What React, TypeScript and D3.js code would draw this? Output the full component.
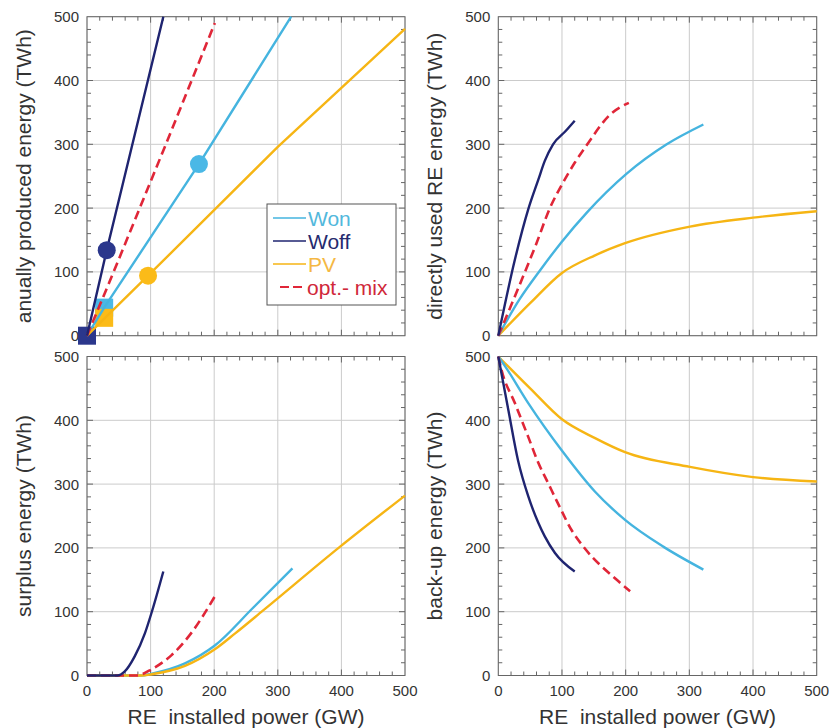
import React from 'react';
import * as d3 from 'd3';

type P = [number, number];

// ---------- data ----------
const xTicks = [0, 100, 200, 300, 400, 500];
const yTicks = [0, 100, 200, 300, 400, 500];

// annually produced energy
const producedWon: P[] = [[0, 0], [27, 44], [176, 269], [321, 500]];
const producedWoff: P[] = [[0, 0], [31, 134], [120, 500]];
const producedPV: P[] = [[0, 0], [96, 94], [300, 296], [500, 481]];
const producedMix: P[] = [[0, 0], [39, 93], [124, 300], [201, 490]];
const circlesProduced: { key: string; p: P }[] = [
  { key: 'woff', p: [31, 134] },
  { key: 'won', p: [176, 269] },
  { key: 'pv', p: [96, 94] },
];
const squaresProduced: { key: string; p: P }[] = [
  { key: 'won', p: [27, 44] },
  { key: 'pv', p: [27, 28] },
  { key: 'woff', p: [0, 0] },
];

// directly used RE energy
const directWoff: P[] = [[0, 0], [26, 119], [47, 198], [63, 245], [73, 274], [86, 300], [105, 320], [120, 337]];
const directMix: P[] = [[0, 0], [39, 93], [60, 145], [81, 200], [100, 237], [120, 271], [139, 299], [175, 346], [205, 365]];
const directWon: P[] = [[0, 0], [34, 58], [66, 103], [99.5, 147], [139, 193], [201.6, 254], [264.5, 300], [322, 331]];
const directPV: P[] = [[0, 0], [50, 51], [99.5, 98], [152, 126], [199, 145], [301, 171], [400, 185], [500, 195]];

// surplus energy
const surplusWoff: P[] = [[0, 0], [48, 0], [59, 6], [75, 30], [91, 66], [102, 100], [120, 163]];
const surplusMix: P[] = [[0, 0], [78, 0], [102, 10], [133, 32], [165, 68], [201, 124]];
const surplusWon: P[] = [[0, 0], [85, 0], [102, 3], [154, 19], [201, 47], [260, 105], [323, 168]];
const surplusPV: P[] = [[0, 0], [85, 0], [102, 2], [154, 15], [201, 41], [233, 66], [277, 102], [398, 202], [500, 282]];

// back-up energy
const backWoff: P[] = [[0, 500], [16, 415], [31, 337], [47, 281], [63, 239], [73, 218], [89, 192], [120, 163]];
const backMix: P[] = [[0, 500], [5, 479], [26, 427], [47, 374], [63, 333], [78.5, 301], [96, 265], [115, 228], [136, 199], [186, 150], [207, 132]];
const backWon: P[] = [[0, 500], [10.5, 485], [47, 427], [99.5, 353], [152, 288], [199, 244], [259, 202], [322, 166]];
const backPV: P[] = [[0, 500], [50, 450], [99.5, 402], [152, 372], [199, 350], [301, 327], [400, 311], [500, 304]];

const legendLabels = ['Won', 'Woff', 'PV', 'opt.- mix'];
const legendKeys = ['won', 'woff', 'pv', 'mix'];

// ---------- style ----------
const LINE: Record<string, string> = { won: '#45b4df', woff: '#1f2470', pv: '#f6b514', mix: '#e02638' };
const MARK: Record<string, string> = { won: '#4ab8e6', woff: '#2b378c', pv: '#fbbb18' };
const TEXT: Record<string, string> = { won: '#52b8dc', woff: '#252a6e', pv: '#f5b843', mix: '#d0283a' };
const FONT = '"Liberation Sans", Arial, Helvetica, sans-serif';

type Box = { l: number; r: number; t: number; b: number };
type Series = { key: string; data: P[] };

function Panel({ box, yLabel, series, showX, curve, children }: {
  box: Box; yLabel: string; series: Series[]; showX: boolean; curve: any;
  children?: (xs: any, ys: any) => React.ReactNode; }) {
  const xs = d3.scaleLinear().domain([0, 500]).range([box.l, box.r]);
  const ys = d3.scaleLinear().domain([0, 500]).range([box.b, box.t]);
  const line = d3.line<P>().x(d => xs(d[0])).y(d => ys(d[1])).curve(curve);
  const minor = d3.range(20, 500, 20).filter(v => v % 100 !== 0);
  const major = [100, 200, 300, 400];
  const cy = (box.t + box.b) / 2;
  const before = children ? children(xs, ys) : null;
  return (
    <g>
      {xTicks.map(v => (
        <line key={'gx' + v} x1={xs(v)} x2={xs(v)} y1={box.t} y2={box.b} stroke="#cbcbcb" strokeWidth={1} />
      ))}
      {yTicks.map(v => (
        <line key={'gy' + v} y1={ys(v)} y2={ys(v)} x1={box.l} x2={box.r} stroke="#cbcbcb" strokeWidth={1} />
      ))}
      {minor.map(v => (
        <g key={'m' + v} stroke="#666" strokeWidth={1}>
          <line x1={xs(v)} x2={xs(v)} y1={box.b} y2={box.b - 4} />
          <line x1={xs(v)} x2={xs(v)} y1={box.t} y2={box.t + 4} />
          <line y1={ys(v)} y2={ys(v)} x1={box.l} x2={box.l + 4} />
          <line y1={ys(v)} y2={ys(v)} x1={box.r} x2={box.r - 4} />
        </g>
      ))}
      {major.map(v => (
        <g key={'M' + v} stroke="#666" strokeWidth={1}>
          <line x1={xs(v)} x2={xs(v)} y1={box.b} y2={box.b - 6} />
          <line x1={xs(v)} x2={xs(v)} y1={box.t} y2={box.t + 6} />
          <line y1={ys(v)} y2={ys(v)} x1={box.l} x2={box.l + 6} />
          <line y1={ys(v)} y2={ys(v)} x1={box.r} x2={box.r - 6} />
        </g>
      ))}
      <rect x={box.l} y={box.t} width={box.r - box.l} height={box.b - box.t} fill="none" stroke="#666" strokeWidth={1} />
      {yTicks.map(v => (
        <text key={'ty' + v} x={box.l - 8} y={ys(v)} dy="0.36em" textAnchor="end" fontSize={15} fill="#333" fontFamily={FONT}>{v}</text>
      ))}
      {showX && xTicks.map(v => (
        <text key={'tx' + v} x={xs(v)} y={box.b + 20} textAnchor="middle" fontSize={15} fill="#333" fontFamily={FONT}>{v}</text>
      ))}
      {showX && (
        <text x={(box.l + box.r) / 2} y={box.b + 48} textAnchor="middle" fontSize={21} fill="#333" fontFamily={FONT} style={{ whiteSpace: 'pre' }}>{'RE  installed power (GW)'}</text>
      )}
      <text transform={`translate(${box.l - 56},${cy}) rotate(-90)`} textAnchor="middle" fontSize={21} fill="#333" fontFamily={FONT}>{yLabel}</text>
      {before}
      {series.map(s => (
        <path key={s.key} d={line(s.data) || ''} fill="none" stroke={LINE[s.key]} strokeLinejoin="round"
          strokeWidth={s.key === 'mix' ? 2.6 : 2.4} strokeDasharray={s.key === 'mix' ? '9,5' : undefined} />
      ))}
    </g>
  );
}

export default function App() {
  const TL: Box = { l: 87, r: 405, t: 16.7, b: 335.7 };
  const TR: Box = { l: 498.3, r: 816.7, t: 16.7, b: 335.7 };
  const BL: Box = { l: 87, r: 405, t: 356.5, b: 675.5 };
  const BR: Box = { l: 498.3, r: 816.7, t: 356.5, b: 675.5 };
  const lx = 267, ly = 204;
  return (
    <svg width={829} height={728} style={{ position: 'absolute', left: 0, top: 0, background: '#fff' }}>
      <rect width={829} height={728} fill="#fff" />
      <Panel box={TL} yLabel="anually produced energy (TWh)" showX={false} curve={d3.curveLinear}
        series={[{ key: 'won', data: producedWon }, { key: 'pv', data: producedPV }, { key: 'mix', data: producedMix }, { key: 'woff', data: producedWoff }]}>
        {(xs, ys) => squaresProduced.map(s => (
          <rect key={'sq' + s.key} x={xs(s.p[0]) - 9} y={ys(s.p[1]) - 9} width={18} height={18} fill={MARK[s.key]} />
        ))}
      </Panel>
      {(() => {
        const xs = d3.scaleLinear().domain([0, 500]).range([TL.l, TL.r]);
        const ys = d3.scaleLinear().domain([0, 500]).range([TL.b, TL.t]);
        return circlesProduced.map(c => (
          <circle key={'c' + c.key} cx={xs(c.p[0])} cy={ys(c.p[1])} r={9} fill={MARK[c.key]} />
        ));
      })()}
      <g>
        <rect x={lx} y={ly} width={129} height={101} fill="#fff" stroke="#555" strokeWidth={1} />
        {legendKeys.map((k, i) => {
          const y = ly + 14 + i * 23;
          return (
            <g key={'lg' + k}>
              {k === 'mix'
                ? <line x1={280} x2={303} y1={y} y2={y} stroke={LINE[k]} strokeWidth={2} strokeDasharray="9,4" />
                : <line x1={273} x2={306} y1={y} y2={y} stroke={LINE[k]} strokeWidth={1.6} />}
              <text x={k === 'mix' ? 307 : 308} y={y + 7.5} fontSize={21} fill={TEXT[k]} fontFamily={FONT}>{legendLabels[i]}</text>
            </g>
          );
        })}
      </g>
      <Panel box={TR} yLabel="directly used RE energy (TWh)" showX={false} curve={d3.curveMonotoneX}
        series={[{ key: 'pv', data: directPV }, { key: 'won', data: directWon }, { key: 'mix', data: directMix }, { key: 'woff', data: directWoff }]} />
      <Panel box={BL} yLabel="surplus energy (TWh)" showX={true} curve={d3.curveMonotoneX}
        series={[{ key: 'won', data: surplusWon }, { key: 'pv', data: surplusPV }, { key: 'mix', data: surplusMix }, { key: 'woff', data: surplusWoff }]} />
      <Panel box={BR} yLabel="back-up energy (TWh)" showX={true} curve={d3.curveMonotoneX}
        series={[{ key: 'pv', data: backPV }, { key: 'won', data: backWon }, { key: 'mix', data: backMix }, { key: 'woff', data: backWoff }]} />
    </svg>
  );
}
